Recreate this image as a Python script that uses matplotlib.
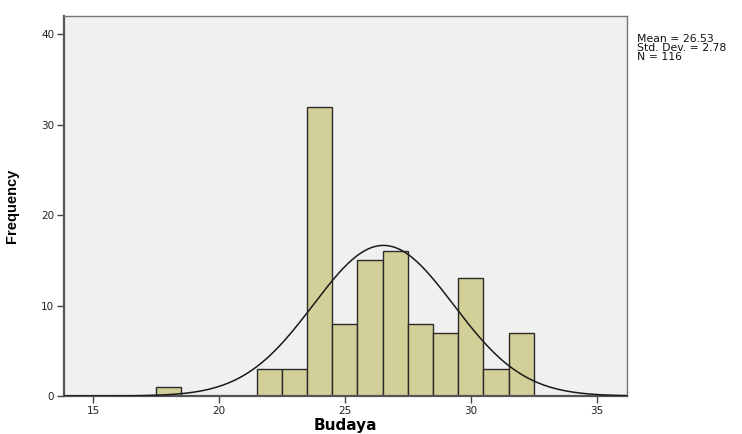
import numpy as np
import matplotlib
matplotlib.use("Agg")
import matplotlib.pyplot as plt

# Histogram of Budaya scores (bin width 1)
bin_left = [17.5, 21.5, 22.5, 23.5, 24.5, 25.5, 26.5, 27.5, 28.5, 29.5, 30.5, 31.5]
counts = [1, 3, 3, 32, 8, 15, 16, 8, 7, 13, 3, 7]
bin_width = 1.0

mean = 26.53
std = 2.78
n = 116

x_ticks = [15, 20, 25, 30, 35]
y_ticks = [0, 10, 20, 30, 40]

plt.rcParams['font.family'] = ['DejaVu Sans']

fig = plt.figure(figsize=(7.42, 4.34), dpi=100)
ax = fig.add_axes([0.0863, 0.0876, 0.7587, 0.8754])
ax.set_facecolor('#f0f0f0')

ax.bar(bin_left, counts, width=bin_width, align='edge',
       color='#d3cf98', edgecolor='#2b2b2b', linewidth=1.0, zorder=2)

xs = np.linspace(13.85, 36.2, 400)
pdf = n * bin_width / (std * np.sqrt(2 * np.pi)) * np.exp(-0.5 * ((xs - mean) / std) ** 2)
ax.plot(xs, pdf, color='#1a1a1a', linewidth=1.1, zorder=3)

ax.set_xlim(13.85, 36.2)
ax.set_ylim(0, 42)
ax.set_xticks(x_ticks)
ax.set_yticks(y_ticks)
ax.tick_params(axis='both', labelsize=7.5, colors='#444444', length=5, width=1,
               direction='out', labelcolor='#222222', pad=2)
for side in ['left', 'bottom']:
    ax.spines[side].set_linewidth(1.6)
    ax.spines[side].set_color('#555555')
for side in ['right', 'top']:
    ax.spines[side].set_linewidth(1.0)
    ax.spines[side].set_color('#777777')

ax.set_xlabel('Budaya', fontsize=11, fontweight='bold', labelpad=2)
ax.set_ylabel('Frequency', fontsize=10.5, fontweight='bold',
              family=['Liberation Sans', 'DejaVu Sans'], labelpad=16)

fig.text(0.858, 0.921, f'Mean = {mean:.2f}\nStd. Dev. = {std:.2f}\nN = {n}',
         fontsize=7.8, va='top', ha='left', linespacing=0.85, color='#111111')

fig.savefig('out.png', dpi=100, facecolor='white')
